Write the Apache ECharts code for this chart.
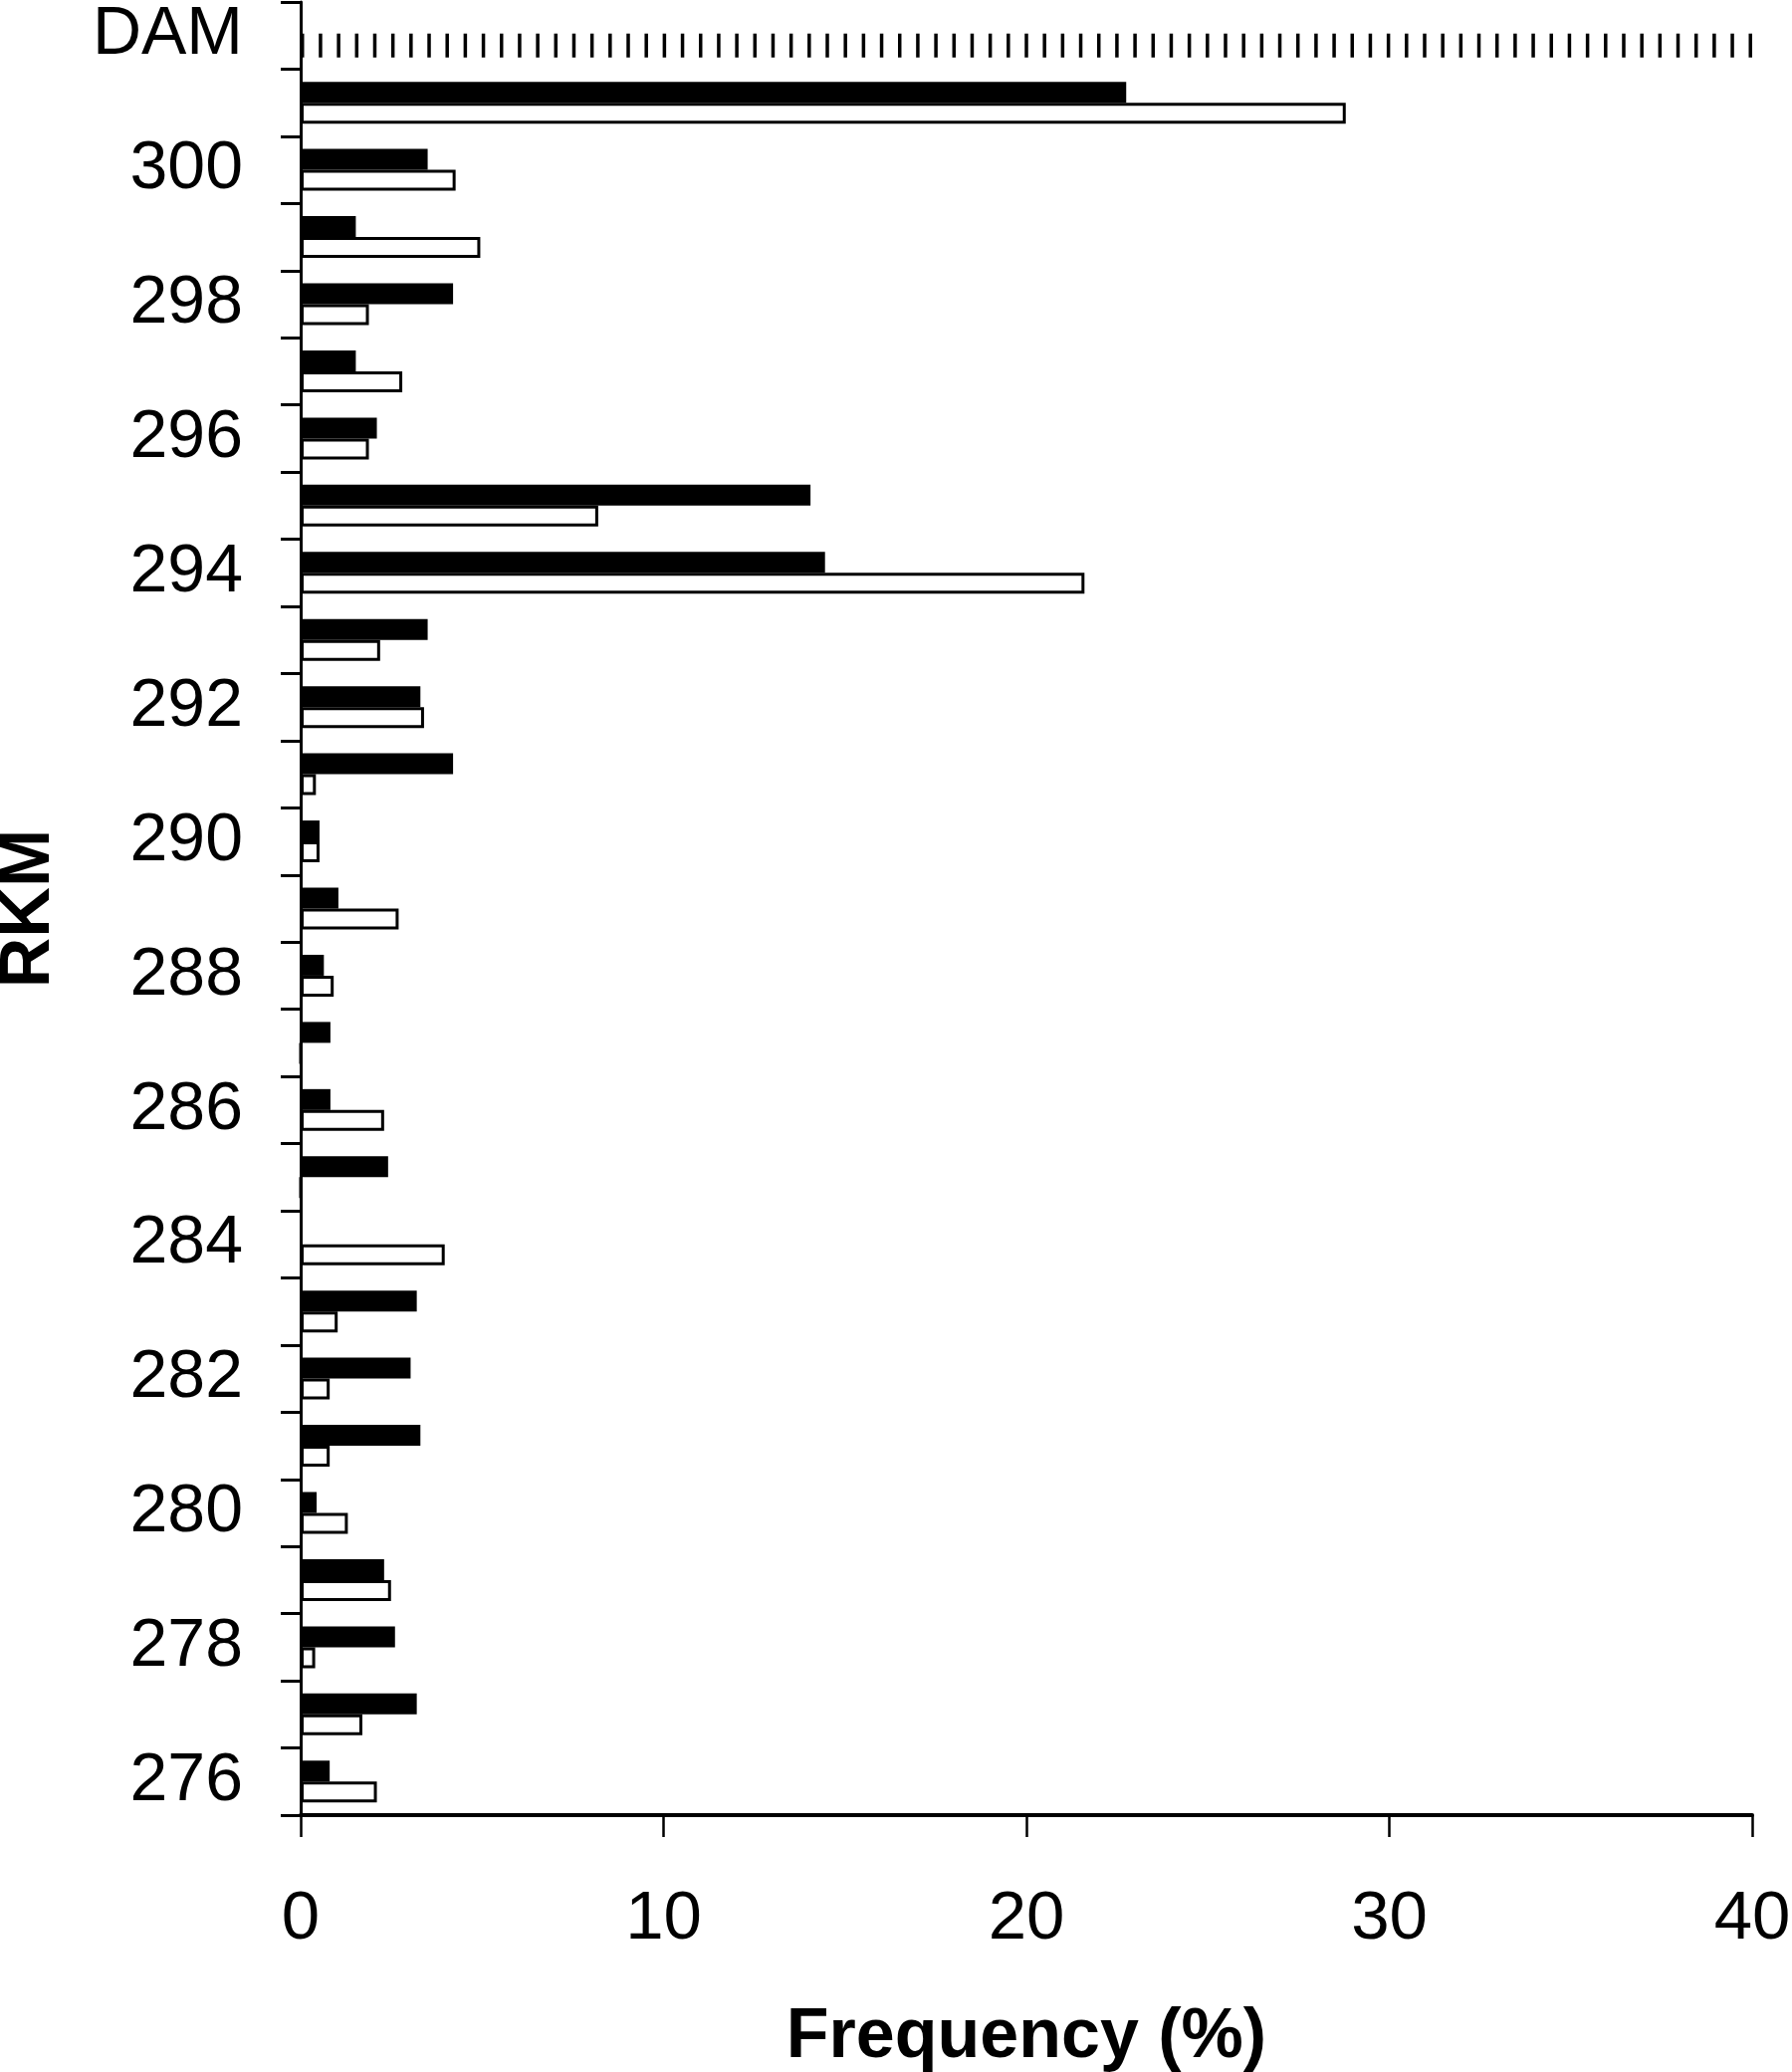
<!DOCTYPE html>
<html>
<head>
<meta charset="utf-8">
<script src="https://cdn.jsdelivr.net/npm/echarts@6/dist/echarts.min.js"></script>
<style>
  html, body { margin: 0; padding: 0; background: #fff; overflow: hidden; }
  #chart { width: 1800px; height: 2081px; }
</style>
</head>
<body>
<div id="chart"></div>
<script>
// Categories (river km, top = dam)
const categories = ['DAM','301','300','299','298','297','296','295','294','293','292','291','290','289','288','287','286','285','284','283','282','281','280','279','278','277','276'];
// Black bars (%)
const blackValues = ['-',22.75,3.5,1.52,4.2,1.52,2.1,14.05,14.45,3.5,3.3,4.2,0.52,1.04,0.64,0.82,0.82,2.41,0,3.2,3.03,3.3,0.44,2.3,2.6,3.2,0.8];
// White (outlined) bars (%)
const whiteValues = ['-',28.8,4.27,4.95,1.88,2.8,1.88,8.2,21.6,2.19,3.4,0.42,0.52,2.7,0.91,0,2.3,0,3.97,1.02,0.8,0.8,1.3,2.49,0.4,1.7,2.1];
// Dam marker (hatched band across the full axis)
const damValues = [40,'-','-','-','-','-','-','-','-','-','-','-','-','-','-','-','-','-','-','-','-','-','-','-','-','-','-'];
// X ticks
const xMin = 0, xMax = 40, xStep = 10;

const FONT = "'Liberation Sans', Arial, Helvetica, sans-serif";
const chart = echarts.init(document.getElementById('chart'), null, { renderer: 'canvas' });
chart.setOption({
  animation: false,
  backgroundColor: '#ffffff',
  grid: { left: 302, right: 40, top: 2, bottom: 258, containLabel: false, outerBoundsMode: 'none' },
  xAxis: {
    type: 'value',
    min: xMin, max: xMax, interval: xStep,
    name: 'Frequency (%)',
    nameLocation: 'middle',
    nameGap: 189,
    nameTextStyle: { fontFamily: FONT, fontSize: 70, fontWeight: 'bold', color: '#000' },
    axisLine: { show: true, lineStyle: { color: '#000', width: 4 } },
    axisTick: { show: true, length: 22, lineStyle: { color: '#000', width: 2.5 } },
    axisLabel: { fontFamily: FONT, fontSize: 69, color: '#000', margin: 70 },
    splitLine: { show: false }
  },
  yAxis: {
    type: 'category',
    data: categories,
    inverse: true,
    name: 'RKM',
    nameLocation: 'middle',
    nameRotate: 90,
    nameGap: 237,
    nameTextStyle: { fontFamily: FONT, fontSize: 70, fontWeight: 'bold', color: '#000' },
    axisLine: { show: true, lineStyle: { color: '#000', width: 3 } },
    axisTick: { show: true, interval: 0, length: 20, lineStyle: { color: '#000', width: 3 } },
    axisLabel: { interval: 1, fontFamily: FONT, fontSize: 68, color: '#000', margin: 58, padding: [4, 0, 0, 0] },
    splitLine: { show: false }
  },
  series: [
    {
      type: 'bar',
      data: blackValues,
      barWidth: 21,
      barGap: '0%',
      itemStyle: { color: '#000' },
      z: 2
    },
    {
      type: 'bar',
      data: whiteValues,
      barWidth: 21,
      barGap: '0%',
      itemStyle: { color: '#fff', borderColor: '#000', borderWidth: 3 },
      z: 3
    },
    {
      type: 'pictorialBar',
      data: damValues,
      symbol: 'rect',
      symbolSize: [3.5, 24],
      symbolRepeat: 81,
      symbolPosition: 'start',
      symbolOffset: [0, 10],
      itemStyle: { color: '#000' },
      z: 4
    }
  ]
});
</script>
</body>
</html>
